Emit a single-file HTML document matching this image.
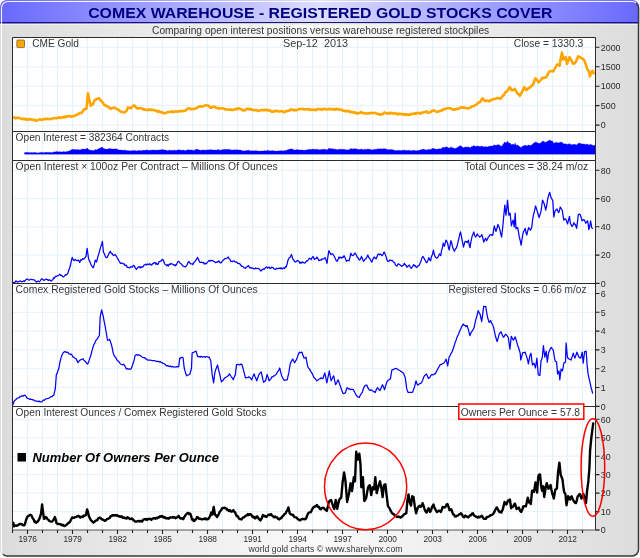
<!DOCTYPE html>
<html><head><meta charset="utf-8"><title>COMEX WAREHOUSE - REGISTERED GOLD STOCKS COVER</title>
<style>html,body{margin:0;padding:0;background:#fff}svg{display:block}text{font-family:"Liberation Sans",Arial,sans-serif}</style></head><body>
<svg width="640" height="558" viewBox="0 0 640 558">
<defs>
<linearGradient id="tg" x1="0" x2="1" y1="0" y2="0"><stop offset="0" stop-color="#6868ff"/><stop offset="0.5" stop-color="#dedeff"/><stop offset="1" stop-color="#6868ff"/></linearGradient>
<linearGradient id="bg" x1="0" x2="1" y1="0" y2="0"><stop offset="0" stop-color="#dcdcdc"/><stop offset="0.5" stop-color="#fafafa"/><stop offset="1" stop-color="#dcdcdc"/></linearGradient>
<clipPath id="fr"><rect x="0" y="0" width="639.2" height="556.7" rx="7" ry="7"/></clipPath>
<clipPath id="p1"><rect x="13" y="38" width="582" height="93"/></clipPath>
<clipPath id="p3"><rect x="13" y="161" width="582" height="122"/></clipPath>
<clipPath id="p4"><rect x="13" y="284" width="582" height="122"/></clipPath>
<clipPath id="p5"><rect x="13" y="407" width="582" height="123"/></clipPath>
</defs>
<g clip-path="url(#fr)">
<rect x="0" y="0" width="640" height="558" fill="url(#bg)"/>
<rect x="0" y="0" width="640" height="22" fill="url(#tg)"/>
<rect x="0" y="22" width="640" height="1" fill="#1a1a5c"/>
<rect x="0" y="23" width="640" height="1" fill="url(#tg)" opacity="0.9"/>
<rect x="0" y="24" width="640" height="1" fill="#f2f2e0"/>
</g>
<path d="M1.5,551 L1.5,8 A6.5,6.5 0 0 1 8,1.5 L632,1.5 A6,6 0 0 1 636,3" fill="none" stroke="#ffffff" stroke-width="1.1" opacity="0.92"/>
<path d="M3,554.2 A6.5,6.5 0 0 0 8,556 L632,556 A6.5,6.5 0 0 0 638.5,549.5 L638.5,8 A6.5,6.5 0 0 0 636.3,3.2" fill="none" stroke="#3a3a3a" stroke-width="1.5"/>
<rect x="12.5" y="37.5" width="583.0" height="492.5" fill="#ffffff"/>
<path d="M27.5,38 V530 M42.5,38 V530 M57.5,38 V530 M72.5,38 V530 M87.5,38 V530 M102.5,38 V530 M117.5,38 V530 M132.5,38 V530 M147.5,38 V530 M162.5,38 V530 M177.5,38 V530 M192.5,38 V530 M207.5,38 V530 M222.5,38 V530 M237.5,38 V530 M252.5,38 V530 M267.5,38 V530 M282.5,38 V530 M297.5,38 V530 M312.5,38 V530 M327.5,38 V530 M342.5,38 V530 M357.5,38 V530 M372.5,38 V530 M387.5,38 V530 M402.5,38 V530 M417.5,38 V530 M432.5,38 V530 M447.5,38 V530 M462.5,38 V530 M477.5,38 V530 M492.5,38 V530 M507.5,38 V530 M522.5,38 V530 M537.5,38 V530 M552.5,38 V530 M567.5,38 V530 M582.5,38 V530 M13,125.1 H595 M13,105.6 H595 M13,86.2 H595 M13,66.8 H595 M13,47.3 H595 M13,255.1 H595 M13,226.8 H595 M13,198.6 H595 M13,170.3 H595 M13,387.5 H595 M13,368.7 H595 M13,349.9 H595 M13,331.1 H595 M13,312.3 H595 M13,293.5 H595 M13,511.6 H595 M13,493.1 H595 M13,474.6 H595 M13,456.2 H595 M13,437.8 H595 M13,419.3 H595" stroke="#e6f2fa" stroke-width="1" fill="none"/>
<path d="M24.5,154.2 L24.5,152.6 L25.8,152.6 L27.0,152.3 L28.0,152.5 L29.0,152.6 L30.1,152.7 L31.1,152.5 L32.1,152.4 L33.2,152.8 L34.3,152.2 L35.4,152.6 L36.5,152.7 L37.7,153.0 L39.0,152.7 L40.2,152.5 L41.8,152.2 L42.9,152.7 L44.0,152.5 L45.2,152.4 L46.3,152.1 L47.3,152.4 L48.4,152.5 L49.6,152.3 L50.9,152.5 L52.1,152.5 L53.2,152.3 L54.2,151.7 L55.3,151.9 L56.4,151.6 L57.5,151.6 L58.5,152.0 L59.6,151.6 L60.9,152.0 L62.2,151.9 L63.5,151.6 L64.7,151.8 L65.7,152.0 L66.8,151.3 L67.8,151.5 L69.0,151.0 L70.3,150.4 L72.2,149.2 L73.4,149.6 L75.3,149.5 L77.2,149.7 L78.5,149.6 L79.7,150.0 L81.0,149.5 L82.2,149.2 L83.5,149.0 L84.7,149.3 L86.0,149.1 L87.1,148.0 L88.4,149.3 L89.7,150.0 L90.9,150.2 L92.2,150.2 L93.4,150.7 L95.3,149.6 L96.5,149.9 L97.8,149.0 L99.0,148.6 L100.9,147.7 L102.4,147.0 L103.4,148.5 L105.3,149.1 L107.2,149.2 L108.5,148.8 L110.3,148.4 L111.5,149.0 L112.8,148.9 L114.0,149.1 L115.3,148.8 L116.6,149.0 L117.9,149.4 L119.2,150.1 L120.4,150.1 L121.6,150.1 L122.9,150.3 L124.1,150.2 L125.4,150.1 L126.6,150.8 L127.9,150.6 L129.1,150.8 L130.4,151.0 L131.6,150.6 L132.9,150.8 L134.2,150.4 L135.3,150.5 L136.4,150.9 L137.4,150.7 L138.5,150.6 L139.6,150.4 L140.6,150.4 L141.7,150.7 L142.7,150.2 L143.8,150.3 L144.8,150.3 L145.9,150.3 L146.9,149.8 L148.0,150.2 L149.2,150.4 L150.5,150.1 L151.7,150.3 L152.9,150.0 L154.2,150.0 L155.3,150.3 L156.3,150.1 L157.4,150.2 L158.4,149.9 L159.5,149.9 L160.5,149.8 L161.7,149.8 L162.8,149.5 L164.4,150.1 L165.7,149.9 L166.9,150.4 L167.9,150.7 L169.0,149.9 L170.0,150.2 L171.2,150.4 L172.5,150.2 L173.6,150.5 L174.6,150.0 L175.7,150.4 L177.1,150.3 L178.6,149.8 L179.9,149.9 L181.3,150.2 L182.4,150.3 L183.4,150.0 L184.5,150.5 L186.3,150.4 L187.4,149.8 L188.6,149.8 L190.1,150.1 L191.5,149.9 L192.9,150.2 L194.0,150.4 L195.1,149.8 L196.2,149.3 L197.4,149.2 L198.4,149.8 L199.5,149.9 L200.5,150.3 L201.6,150.3 L202.6,150.0 L203.7,149.9 L204.7,150.0 L205.8,150.2 L207.1,150.0 L208.3,149.8 L209.3,150.0 L210.4,149.4 L211.4,149.7 L212.7,150.0 L213.9,150.1 L215.2,150.0 L216.4,150.2 L217.7,149.4 L218.9,149.7 L220.2,150.2 L221.4,150.0 L222.7,149.4 L223.9,149.5 L225.0,149.3 L226.1,149.4 L227.2,149.6 L228.3,149.2 L229.6,149.4 L230.8,149.8 L231.9,150.2 L233.0,149.9 L234.1,149.7 L235.2,149.9 L236.3,149.8 L237.4,149.7 L238.5,150.1 L239.5,149.9 L240.6,150.1 L241.6,150.5 L242.9,150.7 L244.1,151.1 L245.4,150.8 L246.7,150.3 L247.9,150.4 L248.9,150.1 L250.0,151.0 L251.0,150.7 L252.3,150.8 L253.5,150.7 L254.8,150.9 L255.8,150.6 L256.9,150.9 L257.9,150.8 L259.2,151.2 L260.5,151.1 L261.5,151.0 L262.6,150.9 L263.6,150.9 L264.6,150.4 L265.7,151.0 L266.7,150.6 L267.8,150.3 L268.8,150.7 L269.9,150.8 L270.9,151.0 L272.0,150.4 L273.0,150.7 L274.2,151.0 L275.5,150.9 L276.5,151.2 L277.6,150.9 L278.6,150.8 L279.9,151.0 L281.1,150.5 L282.4,150.9 L283.7,150.7 L284.9,150.4 L286.2,150.6 L288.0,149.6 L289.9,149.3 L291.4,148.8 L293.1,149.5 L294.4,150.0 L295.6,149.9 L296.9,149.6 L298.1,149.7 L299.9,150.1 L301.2,149.9 L302.5,149.9 L303.5,150.3 L304.6,150.2 L305.6,150.0 L306.9,150.1 L308.1,149.5 L309.4,149.3 L311.2,149.5 L313.1,149.1 L314.5,149.5 L315.8,149.3 L317.0,149.2 L318.9,149.7 L319.9,149.8 L321.0,149.5 L322.0,149.4 L323.1,149.2 L324.1,149.2 L325.2,149.3 L327.0,150.1 L328.9,148.3 L330.8,148.8 L332.7,148.7 L334.6,149.2 L335.9,149.2 L337.1,149.8 L339.0,149.2 L340.2,149.2 L341.5,149.3 L342.8,149.6 L344.0,149.0 L345.2,149.8 L346.5,149.8 L347.8,149.9 L349.0,149.7 L350.9,148.6 L352.8,149.0 L354.1,148.8 L355.3,148.6 L357.1,149.2 L358.4,149.3 L359.6,149.6 L361.5,149.1 L363.4,149.8 L364.6,149.3 L365.9,149.4 L367.8,148.9 L369.7,149.3 L370.8,149.4 L371.9,149.9 L373.0,149.8 L374.1,149.2 L376.0,149.4 L377.8,148.8 L379.1,149.1 L380.3,148.7 L382.2,149.0 L384.1,148.5 L386.0,149.1 L387.9,149.8 L389.7,149.6 L390.5,149.6 L391.8,149.6 L393.0,149.8 L394.1,150.2 L395.1,150.4 L396.2,150.4 L397.4,150.4 L398.7,150.2 L399.7,150.4 L400.8,150.6 L401.8,150.5 L403.1,150.2 L404.3,150.1 L405.3,150.4 L406.4,150.2 L407.4,150.6 L409.3,150.3 L411.2,150.8 L412.4,150.5 L413.7,150.2 L414.7,150.6 L415.8,150.7 L416.8,150.7 L417.9,150.3 L418.9,150.6 L420.0,150.1 L421.4,149.7 L422.9,149.1 L424.4,149.4 L425.6,149.8 L426.9,150.0 L428.8,149.3 L430.6,149.7 L432.0,148.6 L433.4,148.2 L435.0,149.1 L436.9,149.3 L438.1,149.1 L439.4,148.7 L440.7,149.0 L441.9,147.9 L443.2,147.2 L444.4,147.7 L445.9,146.8 L447.6,147.2 L449.2,148.2 L450.9,146.9 L452.6,147.8 L454.5,148.4 L455.8,148.2 L457.0,147.7 L458.8,146.6 L460.5,145.6 L462.2,146.9 L463.5,147.8 L465.1,147.0 L466.1,147.0 L467.1,147.2 L468.4,146.8 L470.0,147.9 L471.5,146.6 L472.6,146.4 L473.8,145.6 L475.5,146.4 L477.2,145.9 L478.4,146.2 L479.7,146.4 L480.8,146.4 L481.8,146.0 L482.8,146.4 L483.8,147.1 L485.6,146.5 L486.6,146.9 L487.9,146.7 L489.1,146.3 L491.0,146.0 L492.8,146.1 L494.3,144.8 L496.0,145.6 L497.9,144.6 L499.7,145.2 L501.6,146.4 L503.5,143.8 L504.8,141.8 L506.0,143.2 L507.5,141.1 L508.9,143.2 L510.1,143.0 L511.4,144.8 L513.2,144.0 L514.2,144.9 L515.2,143.0 L516.0,145.2 L517.7,145.0 L519.2,146.3 L521.1,147.5 L522.9,145.9 L524.0,145.7 L525.2,145.1 L526.7,146.1 L528.6,145.0 L530.5,145.4 L531.8,144.9 L532.8,143.7 L534.4,142.7 L535.6,142.0 L537.5,142.8 L539.2,143.6 L541.0,142.7 L542.5,141.1 L544.0,141.6 L545.7,142.5 L547.6,141.0 L548.7,140.8 L549.7,140.0 L551.3,140.9 L552.8,141.2 L553.8,143.5 L555.1,142.6 L557.0,142.4 L558.8,142.9 L560.3,142.1 L561.3,142.2 L562.4,142.6 L563.9,144.0 L565.7,143.8 L567.6,144.5 L569.5,143.4 L570.4,144.4 L572.0,144.8 L573.9,144.3 L575.4,144.6 L576.6,145.1 L578.3,143.2 L580.2,143.2 L582.0,144.1 L583.9,143.9 L585.8,144.4 L587.7,144.1 L588.9,145.3 L590.6,144.1 L591.7,145.0 L592.7,145.2 L593.9,145.5 L595.0,145.2 L595.0,154.2 Z" fill="#0000ff" stroke="#0000ff" stroke-width="0.3"/>
<path clip-path="url(#p1)" d="M12.6,117.7 L13.3,117.7 L14.3,117.3 L15.3,118.2 L16.3,118.1 L17.3,117.6 L18.3,117.9 L19.3,118.1 L20.4,118.3 L21.4,118.8 L22.4,119.2 L23.5,118.6 L24.5,119.3 L25.6,118.8 L26.6,119.8 L27.6,119.3 L28.7,119.7 L29.8,118.9 L30.8,119.5 L32.0,119.6 L33.1,120.0 L34.2,119.6 L35.4,120.6 L36.6,120.6 L37.7,120.3 L38.8,119.5 L39.9,119.3 L41.1,119.7 L42.2,119.9 L43.3,119.2 L44.3,119.1 L45.4,118.9 L46.5,119.1 L47.5,118.6 L48.5,118.9 L49.6,119.2 L50.6,119.0 L51.7,118.9 L52.8,118.4 L53.8,118.3 L54.9,118.1 L55.9,118.3 L57.0,118.1 L58.0,117.7 L59.0,117.3 L60.1,118.1 L61.2,117.6 L62.2,117.4 L63.2,117.4 L64.3,116.6 L65.3,117.4 L66.3,117.0 L67.4,115.9 L68.4,116.2 L69.7,116.1 L70.9,116.6 L72.2,116.4 L73.2,116.3 L74.2,116.2 L75.2,115.2 L76.2,115.3 L77.2,114.5 L78.2,114.2 L79.2,113.3 L80.2,113.1 L81.2,113.0 L82.2,112.0 L84.1,109.1 L85.3,109.3 L86.5,108.6 L88.0,93.2 L89.6,101.4 L90.9,105.8 L92.8,104.5 L94.7,100.1 L96.5,99.1 L97.8,98.7 L99.0,98.2 L100.3,99.9 L101.6,101.4 L102.8,102.6 L104.1,104.9 L105.3,105.1 L106.6,106.3 L107.8,106.4 L109.2,107.5 L110.6,108.9 L111.8,108.0 L112.9,108.0 L114.1,107.4 L115.1,108.2 L116.2,108.7 L117.2,109.1 L118.3,109.7 L119.3,110.6 L120.4,111.4 L121.5,111.7 L122.6,112.2 L123.7,112.2 L124.8,112.4 L126.6,110.8 L127.9,107.4 L128.9,107.6 L130.0,108.0 L131.0,108.3 L132.1,106.8 L133.1,105.8 L134.2,105.4 L135.4,106.9 L136.7,107.9 L137.7,108.6 L138.7,108.3 L139.7,108.2 L140.7,108.1 L141.7,108.6 L142.7,108.8 L143.7,109.7 L144.7,109.6 L145.7,109.6 L146.7,109.8 L147.7,110.2 L148.7,109.4 L149.7,109.6 L150.7,110.1 L151.7,109.5 L152.7,109.9 L153.7,110.1 L154.7,110.2 L155.7,110.8 L156.7,111.1 L157.7,111.8 L158.7,110.9 L159.7,112.0 L160.7,112.2 L161.7,112.0 L163.1,113.1 L164.4,113.3 L165.4,113.2 L166.5,112.8 L167.5,112.0 L168.6,112.0 L169.7,112.0 L170.8,111.8 L171.9,111.3 L173.0,112.2 L174.1,111.8 L175.2,111.3 L176.3,111.6 L177.4,111.5 L178.5,111.4 L179.6,111.1 L180.7,111.0 L181.8,111.1 L182.9,111.1 L184.0,111.0 L185.1,110.8 L186.3,109.9 L187.6,108.6 L188.8,108.3 L190.1,108.6 L191.3,109.5 L192.4,108.8 L193.5,109.0 L194.6,109.0 L195.7,108.3 L196.8,108.0 L197.8,107.4 L198.9,106.4 L199.9,106.7 L200.9,106.0 L201.9,106.6 L202.9,106.4 L203.9,106.1 L205.1,105.4 L206.4,105.1 L207.6,105.4 L208.9,105.9 L210.2,107.6 L211.4,107.6 L212.7,106.8 L213.9,106.8 L214.9,106.8 L215.9,107.8 L216.9,107.9 L217.9,108.0 L218.9,108.9 L220.2,108.2 L221.4,108.3 L222.4,108.6 L223.4,108.4 L224.5,108.7 L225.5,109.5 L226.5,109.5 L227.5,109.5 L228.6,109.5 L229.6,109.8 L230.6,109.3 L231.7,109.9 L232.7,110.1 L233.7,109.7 L234.7,109.1 L235.7,108.7 L236.7,109.4 L237.7,108.6 L239.1,108.3 L240.4,109.0 L241.6,109.4 L242.9,110.4 L244.0,110.3 L245.1,110.3 L246.3,109.0 L247.4,108.8 L248.5,109.1 L249.6,108.9 L250.7,109.7 L251.8,109.2 L252.9,110.0 L254.0,110.2 L255.1,110.2 L256.2,110.0 L257.3,110.5 L258.4,111.0 L259.5,110.7 L260.6,110.3 L261.7,109.9 L262.8,110.3 L263.9,109.9 L265.0,110.1 L266.1,109.9 L267.2,109.9 L268.2,110.6 L269.2,110.1 L270.3,110.7 L271.3,111.7 L272.4,111.4 L273.4,111.7 L274.4,110.9 L275.4,111.5 L276.4,110.7 L277.4,110.8 L278.4,111.5 L279.5,111.5 L280.5,111.3 L281.5,111.3 L282.6,111.2 L283.6,112.0 L284.9,112.2 L286.1,110.8 L287.4,111.1 L288.7,110.8 L289.9,110.3 L291.2,109.1 L292.4,109.8 L293.7,110.4 L294.7,109.7 L295.7,110.3 L296.7,110.2 L297.7,109.6 L298.7,109.1 L299.8,109.1 L300.8,109.0 L301.9,109.0 L303.0,108.9 L304.1,109.5 L305.1,109.2 L306.2,109.3 L307.4,109.1 L308.5,109.1 L309.7,109.9 L310.8,109.5 L312.0,109.9 L313.1,109.8 L314.1,109.5 L315.2,110.1 L316.3,110.0 L317.4,108.9 L318.4,109.0 L319.5,109.3 L320.5,109.0 L321.6,109.8 L322.6,109.5 L323.7,108.9 L324.7,108.7 L325.8,109.2 L326.8,109.4 L327.9,109.5 L328.9,108.9 L329.9,108.8 L331.0,109.5 L332.0,109.3 L333.0,109.1 L334.0,109.8 L335.1,108.9 L336.1,109.6 L337.1,108.8 L338.1,109.0 L339.2,109.9 L340.2,109.5 L341.3,109.5 L342.4,110.5 L343.5,110.6 L344.6,110.8 L345.7,111.4 L346.8,110.9 L347.9,111.1 L349.0,111.1 L350.1,112.0 L351.2,111.8 L352.3,112.4 L353.4,112.0 L354.5,112.9 L355.6,112.4 L356.7,113.3 L357.8,113.7 L358.9,113.0 L360.0,112.6 L361.1,112.4 L362.2,112.6 L363.2,113.2 L364.2,113.3 L365.2,113.5 L366.2,113.1 L367.2,113.5 L368.4,113.4 L369.7,113.4 L370.9,112.9 L371.9,112.9 L373.0,113.3 L374.0,113.0 L375.1,112.9 L376.1,113.3 L377.2,113.7 L378.2,114.3 L379.2,114.1 L380.2,114.7 L381.2,114.3 L382.2,114.5 L384.1,112.6 L385.1,112.6 L386.2,113.4 L387.2,113.3 L388.2,113.7 L389.2,112.8 L390.2,113.6 L391.3,112.9 L392.3,113.0 L393.3,113.9 L394.3,113.5 L395.3,113.1 L396.4,113.5 L397.4,114.5 L398.4,113.9 L399.5,113.7 L400.5,114.3 L401.6,113.9 L402.6,114.1 L403.6,114.7 L404.7,114.0 L405.8,115.0 L406.8,114.5 L407.9,114.3 L408.9,114.9 L410.0,114.7 L411.0,113.9 L412.1,113.7 L413.1,113.9 L414.1,113.8 L415.2,113.2 L416.2,113.8 L417.2,112.9 L418.3,112.8 L419.3,113.3 L420.4,113.7 L421.4,112.6 L422.5,112.8 L423.5,112.4 L424.6,112.0 L425.6,112.0 L426.6,111.5 L427.6,112.5 L428.6,112.6 L429.6,112.6 L430.6,112.0 L431.7,111.0 L432.7,110.6 L433.8,110.4 L435.1,111.1 L436.3,111.6 L437.4,112.0 L438.5,111.3 L439.6,111.2 L440.7,110.8 L441.9,110.4 L443.2,109.4 L444.4,109.1 L445.7,108.9 L446.9,108.3 L448.2,108.3 L449.3,108.3 L450.4,108.4 L451.5,108.9 L452.6,109.5 L453.7,109.9 L454.8,109.1 L455.9,109.2 L457.0,108.9 L458.1,108.7 L459.2,108.7 L460.3,107.6 L461.4,107.4 L462.6,107.4 L463.8,107.6 L465.0,108.0 L466.1,107.8 L467.3,108.4 L468.5,108.4 L469.6,107.9 L470.7,107.1 L471.9,106.6 L473.0,106.3 L474.2,105.8 L475.3,105.2 L476.3,104.7 L477.3,103.6 L478.3,102.7 L479.3,102.3 L480.3,102.0 L481.5,99.6 L482.6,98.3 L483.6,99.6 L484.7,100.8 L486.0,100.5 L487.2,100.7 L488.5,101.4 L489.6,101.0 L490.6,100.0 L491.7,100.1 L492.8,99.2 L494.1,98.9 L495.3,99.0 L496.6,98.3 L497.7,97.9 L498.8,98.3 L499.9,98.7 L501.0,98.3 L502.3,96.1 L503.5,95.5 L504.8,93.3 L505.8,91.8 L506.9,91.5 L507.9,90.1 L509.8,87.0 L511.6,90.1 L512.7,90.3 L513.7,89.7 L514.8,88.9 L516.0,90.9 L517.3,93.3 L518.5,94.1 L519.8,95.8 L521.0,93.6 L522.3,91.4 L524.2,87.0 L526.1,90.1 L527.1,89.8 L528.2,88.2 L529.2,87.6 L530.3,87.4 L531.3,85.8 L532.4,85.5 L533.5,83.6 L534.5,80.1 L535.6,78.3 L537.0,80.1 L538.4,82.3 L539.7,81.3 L541.0,79.7 L542.3,77.8 L543.3,78.1 L544.3,77.8 L545.3,77.5 L546.3,77.0 L547.3,75.4 L548.4,72.9 L549.4,71.4 L550.7,71.3 L551.9,71.0 L553.2,71.4 L554.5,69.4 L555.7,67.0 L557.0,64.5 L558.2,64.8 L559.5,65.7 L560.8,58.6 L562.0,52.6 L563.2,59.5 L564.5,58.8 L565.7,57.0 L567.0,63.9 L568.2,60.8 L569.5,57.0 L570.8,59.4 L572.0,61.6 L573.3,63.9 L574.5,63.4 L575.8,62.0 L577.0,59.1 L578.3,56.3 L579.3,56.8 L580.4,57.4 L581.4,58.2 L582.4,58.7 L583.5,59.3 L584.5,60.7 L586.4,66.4 L587.7,70.1 L588.9,70.8 L589.9,76.4 L591.4,72.0 L592.7,70.8 L593.7,73.3" fill="none" stroke="#ffa500" stroke-width="2.6" stroke-linejoin="round" stroke-linecap="round"/>
<path clip-path="url(#p3)" d="M12.6,282.6 L13.3,282.3 L14.1,283.0 L14.9,282.8 L15.6,281.1 L16.4,281.0 L17.2,282.2 L17.9,281.9 L18.7,281.6 L19.5,281.2 L20.3,280.9 L21.2,281.5 L22.0,281.5 L22.8,281.5 L23.7,280.8 L24.5,281.4 L25.3,280.4 L26.2,279.5 L27.0,278.9 L27.9,279.4 L28.7,280.0 L29.6,280.1 L30.4,279.4 L31.2,279.4 L32.1,279.6 L33.0,279.7 L33.9,279.8 L34.7,280.2 L35.6,281.5 L36.5,282.1 L37.4,281.4 L38.4,281.2 L39.3,281.8 L40.2,280.8 L41.0,279.7 L41.8,278.6 L42.9,279.6 L44.0,280.4 L45.2,279.6 L46.0,279.3 L46.8,279.1 L47.6,279.9 L48.4,280.4 L49.3,279.7 L50.2,280.3 L51.2,281.1 L52.1,280.2 L52.9,279.6 L53.7,277.7 L54.5,278.1 L55.3,276.4 L56.2,276.5 L57.0,275.9 L57.9,275.8 L58.7,275.1 L59.6,274.2 L60.5,275.3 L61.3,275.1 L62.2,276.0 L63.0,276.8 L63.9,276.7 L64.7,275.8 L65.5,274.6 L66.2,275.0 L67.0,274.3 L67.8,273.3 L68.6,270.7 L69.5,268.4 L70.3,265.8 L71.2,261.6 L72.2,257.4 L73.4,259.9 L74.3,260.5 L75.3,259.5 L76.2,260.2 L77.2,260.8 L78.5,260.1 L79.7,262.6 L81.0,259.5 L81.9,259.8 L82.8,258.6 L83.8,259.2 L84.7,258.2 L86.0,256.4 L87.1,248.4 L88.4,257.6 L89.2,260.6 L90.1,262.1 L90.9,264.5 L91.7,265.7 L92.6,267.3 L93.4,267.6 L94.3,264.3 L95.3,260.1 L96.5,262.0 L97.3,259.0 L98.2,255.6 L99.0,253.2 L100.0,249.4 L100.9,246.3 L101.7,244.2 L102.4,241.3 L103.4,252.0 L104.3,253.6 L105.3,256.4 L106.2,257.6 L107.2,257.4 L108.5,254.5 L109.4,252.5 L110.3,251.3 L111.1,253.2 L112.0,253.4 L112.8,254.9 L113.6,255.6 L114.5,255.0 L115.3,254.5 L116.2,256.0 L117.0,257.5 L117.9,258.9 L118.7,260.6 L119.6,262.0 L120.4,263.3 L121.3,263.1 L122.2,263.1 L123.2,263.8 L124.1,263.9 L124.9,265.4 L125.6,265.5 L126.4,265.2 L127.1,267.3 L127.9,267.4 L128.8,267.7 L129.8,267.9 L130.7,266.5 L131.6,267.0 L132.5,267.0 L133.3,265.4 L134.2,265.8 L135.3,267.9 L136.4,269.5 L137.4,267.8 L138.5,267.0 L139.3,266.7 L140.1,268.0 L140.9,266.7 L141.7,267.6 L142.5,266.9 L143.2,266.8 L144.0,265.0 L144.8,264.8 L145.6,264.1 L146.4,265.1 L147.2,264.1 L148.0,264.1 L148.9,264.7 L149.8,263.8 L150.8,264.6 L151.7,265.1 L152.5,263.7 L153.4,263.7 L154.2,262.6 L155.0,262.3 L155.8,264.4 L156.6,263.2 L157.4,264.5 L158.2,264.1 L158.9,261.9 L159.7,261.5 L160.5,261.1 L161.3,261.1 L162.0,259.4 L162.8,259.5 L163.6,260.8 L164.4,263.3 L165.2,264.5 L166.1,264.8 L166.9,265.8 L167.7,264.7 L168.4,266.0 L169.2,264.2 L170.0,264.5 L170.8,263.5 L171.7,264.0 L172.5,264.1 L173.3,264.7 L174.1,265.4 L174.9,264.7 L175.7,265.8 L176.7,264.0 L177.6,262.0 L178.6,261.4 L179.5,262.1 L180.4,263.5 L181.3,263.9 L182.1,265.0 L182.9,266.0 L183.7,266.4 L184.5,266.6 L185.4,266.9 L186.3,265.8 L187.1,264.8 L187.8,263.0 L188.6,261.6 L189.3,262.0 L190.1,263.3 L191.0,264.0 L192.0,263.8 L192.9,264.5 L194.0,262.2 L195.1,261.4 L195.9,260.0 L196.6,259.4 L197.4,257.4 L198.4,259.0 L199.5,262.0 L200.3,262.3 L201.1,262.1 L201.8,262.5 L202.6,262.6 L203.4,262.3 L204.2,264.1 L205.0,263.1 L205.8,263.9 L206.6,263.3 L207.5,262.1 L208.3,261.4 L209.1,260.4 L209.9,261.2 L210.6,260.3 L211.4,260.8 L212.2,260.4 L212.9,260.7 L213.7,261.3 L214.4,261.5 L215.2,262.6 L216.1,262.4 L217.1,261.7 L218.0,262.1 L218.9,260.8 L219.7,262.2 L220.6,262.9 L221.4,262.6 L222.2,261.1 L223.1,260.4 L223.9,259.5 L224.8,258.6 L225.7,258.7 L226.5,258.2 L227.4,258.0 L228.3,257.0 L229.1,258.8 L230.0,259.5 L230.8,261.4 L231.7,261.4 L232.6,261.7 L233.4,260.9 L234.3,261.0 L235.2,262.0 L236.0,262.2 L236.8,262.0 L237.7,263.4 L238.5,263.3 L239.3,263.6 L240.1,264.1 L240.8,265.1 L241.6,266.4 L242.4,266.3 L243.1,266.7 L243.9,267.6 L244.6,267.9 L245.4,268.3 L246.2,267.1 L247.1,266.9 L247.9,265.8 L248.7,265.7 L249.4,267.4 L250.2,268.0 L251.0,267.6 L251.8,268.3 L252.5,268.0 L253.3,268.4 L254.0,268.8 L254.8,268.9 L255.6,267.9 L256.4,268.5 L257.1,268.5 L257.9,268.3 L258.8,268.6 L259.6,269.2 L260.5,270.8 L261.3,270.9 L262.1,269.6 L262.8,269.4 L263.6,268.9 L264.4,269.2 L265.1,268.1 L265.9,267.1 L266.7,267.0 L267.5,268.2 L268.3,267.4 L269.1,267.1 L269.9,268.3 L270.7,268.5 L271.4,267.2 L272.2,267.4 L273.0,267.6 L273.8,268.8 L274.7,269.2 L275.5,269.5 L276.3,268.3 L277.1,268.8 L277.8,268.4 L278.6,268.3 L279.4,268.4 L280.1,268.0 L280.9,268.8 L281.6,268.0 L282.4,268.9 L283.2,268.1 L283.9,267.9 L284.7,268.5 L285.4,266.6 L286.2,267.0 L287.1,264.0 L288.0,260.1 L288.9,258.3 L289.9,257.6 L290.6,256.2 L291.4,254.5 L292.2,256.8 L293.1,259.5 L293.9,260.3 L294.8,261.6 L295.6,262.0 L296.4,261.4 L297.3,260.5 L298.1,260.8 L299.0,261.4 L299.9,263.3 L300.8,262.1 L301.6,263.1 L302.5,262.0 L303.3,262.4 L304.1,263.1 L304.8,262.8 L305.6,262.6 L306.4,260.9 L307.1,261.1 L307.9,260.5 L308.6,259.5 L309.4,258.2 L310.3,258.8 L311.2,259.5 L312.1,257.7 L313.1,256.4 L314.5,259.5 L315.3,258.6 L316.2,258.4 L317.0,257.0 L317.9,258.5 L318.9,260.8 L319.7,260.4 L320.4,259.8 L321.2,260.2 L322.0,258.9 L322.8,259.1 L323.6,259.0 L324.4,258.5 L325.2,257.6 L326.1,260.1 L327.0,263.3 L327.9,256.5 L328.9,250.7 L329.9,252.6 L330.8,254.5 L331.8,253.8 L332.7,253.9 L333.6,255.3 L334.6,257.0 L335.4,258.8 L336.3,260.7 L337.1,261.4 L338.1,259.4 L339.0,257.0 L339.8,258.0 L340.7,257.1 L341.5,258.2 L342.3,257.1 L343.2,257.4 L344.0,255.7 L344.8,257.0 L345.7,259.4 L346.5,261.4 L347.3,260.4 L348.2,260.3 L349.0,260.8 L349.9,257.7 L350.9,253.2 L351.9,255.3 L352.8,255.7 L353.6,255.1 L354.5,253.4 L355.3,253.2 L356.2,254.7 L357.1,257.0 L357.9,257.6 L358.8,259.4 L359.6,260.1 L360.6,258.6 L361.5,256.4 L362.4,258.8 L363.4,261.4 L364.2,260.6 L365.1,259.0 L365.9,258.9 L366.9,257.1 L367.8,255.1 L368.8,257.5 L369.7,258.2 L370.8,260.6 L371.9,262.0 L373.0,258.8 L374.1,257.0 L375.1,258.0 L376.0,258.9 L376.9,257.1 L377.8,254.5 L378.6,253.9 L379.5,254.8 L380.3,253.9 L381.2,254.7 L382.2,255.7 L383.1,254.2 L384.1,252.0 L385.1,254.0 L386.0,256.4 L386.9,259.8 L387.9,261.4 L388.8,261.3 L389.7,260.1 L390.5,260.1 L391.3,260.7 L392.2,260.3 L393.0,261.4 L393.8,262.4 L394.6,262.8 L395.4,264.9 L396.2,265.8 L397.0,265.9 L397.9,264.0 L398.7,263.9 L399.5,264.5 L400.2,265.1 L401.0,265.6 L401.8,266.4 L402.6,265.7 L403.5,265.1 L404.3,263.3 L405.1,264.6 L405.9,265.1 L406.6,266.9 L407.4,267.0 L408.4,265.7 L409.3,265.1 L410.2,267.1 L411.2,268.3 L412.0,267.3 L412.9,266.2 L413.7,264.5 L414.5,265.9 L415.2,265.6 L416.0,267.0 L416.8,267.6 L417.6,266.3 L418.4,265.8 L419.2,265.2 L420.0,263.3 L421.0,261.2 L421.9,257.8 L422.9,256.4 L423.6,257.6 L424.4,258.9 L425.2,260.5 L426.1,262.1 L426.9,262.6 L427.9,260.4 L428.8,257.6 L429.7,259.8 L430.6,260.8 L431.5,256.4 L432.5,254.5 L433.4,250.1 L434.2,253.7 L435.0,256.4 L435.9,257.5 L436.9,258.2 L437.7,257.5 L438.6,256.0 L439.4,253.9 L440.7,255.7 L441.5,250.8 L442.4,247.9 L443.2,243.2 L444.4,246.3 L445.1,243.7 L445.9,240.1 L446.8,241.1 L447.6,243.2 L448.4,247.1 L449.2,250.1 L450.0,245.6 L450.9,240.7 L451.8,243.3 L452.6,247.0 L453.6,249.7 L454.5,251.3 L455.3,249.0 L456.2,248.2 L457.0,246.3 L457.9,242.4 L458.8,238.8 L459.6,234.9 L460.5,231.9 L461.4,236.4 L462.2,240.7 L463.5,247.0 L464.3,244.1 L465.1,241.3 L466.1,241.5 L467.1,242.7 L468.4,240.2 L469.2,244.8 L470.0,247.7 L470.8,242.5 L471.5,238.9 L472.3,235.7 L473.0,234.3 L473.8,232.0 L474.6,235.2 L475.5,237.1 L476.4,235.8 L477.2,233.9 L478.0,235.4 L478.9,236.0 L479.7,237.1 L480.8,236.1 L481.8,234.5 L482.8,238.0 L483.8,242.1 L484.7,239.8 L485.6,238.3 L486.6,240.8 L487.4,239.3 L488.3,237.0 L489.1,236.4 L490.1,234.7 L491.0,234.5 L491.9,235.3 L492.8,235.2 L493.6,229.9 L494.3,225.8 L495.1,229.1 L496.0,231.4 L496.9,228.5 L497.9,224.5 L498.8,226.5 L499.7,228.9 L500.6,233.3 L501.6,237.1 L502.6,228.5 L503.5,218.9 L504.8,205.1 L506.0,215.1 L506.8,208.3 L507.5,200.1 L508.9,215.1 L510.1,213.2 L511.4,225.8 L512.3,222.3 L513.2,220.1 L514.2,227.0 L515.2,213.2 L516.0,228.9 L516.9,227.6 L517.7,227.6 L518.5,231.8 L519.2,236.4 L520.2,240.7 L521.1,245.2 L522.0,239.2 L522.9,233.9 L523.7,231.2 L524.4,230.3 L525.2,228.3 L526.0,232.6 L526.7,235.2 L527.7,231.2 L528.6,227.6 L529.5,229.0 L530.5,230.2 L531.8,227.0 L532.8,218.3 L533.6,214.6 L534.4,211.4 L535.6,206.0 L536.5,208.9 L537.5,212.0 L538.4,215.5 L539.2,217.6 L540.1,214.2 L541.0,211.4 L541.8,206.0 L542.5,200.1 L543.2,201.6 L544.0,203.2 L544.9,206.7 L545.7,210.1 L546.7,205.5 L547.6,199.5 L548.7,195.1 L549.7,192.3 L550.5,195.8 L551.3,198.2 L552.0,199.1 L552.8,200.7 L553.8,217.0 L555.1,210.8 L556.0,210.1 L557.0,208.9 L557.9,211.3 L558.8,212.6 L559.5,210.1 L560.3,207.0 L561.3,208.7 L562.4,210.8 L563.1,216.1 L563.9,220.2 L564.8,218.8 L565.7,218.9 L566.7,221.6 L567.6,223.9 L568.5,220.0 L569.5,216.4 L570.4,223.3 L571.2,224.9 L572.0,226.4 L573.0,225.2 L573.9,222.7 L574.6,224.1 L575.4,224.5 L576.6,228.3 L577.5,221.6 L578.3,214.5 L579.2,214.2 L580.2,214.5 L581.1,217.2 L582.0,220.8 L583.0,220.1 L583.9,219.5 L584.8,220.9 L585.8,223.3 L586.8,221.6 L587.7,220.8 L588.9,229.6 L589.8,226.0 L590.6,220.8 L591.7,227.7 L592.7,228.9" fill="none" stroke="#0000ff" stroke-width="1.25" stroke-linejoin="round"/>
<path clip-path="url(#p4)" d="M12.6,405.0 L13.0,404.4 L14.0,401.5 L15.0,400.2 L15.9,399.5 L16.9,398.5 L17.7,398.0 L18.5,397.9 L19.3,397.5 L20.1,396.5 L20.9,396.6 L21.9,395.7 L22.9,396.3 L23.8,395.3 L24.8,395.2 L25.8,396.0 L26.8,397.9 L27.8,398.5 L28.8,398.7 L29.8,399.4 L30.7,399.2 L31.7,399.5 L32.5,399.9 L33.3,399.6 L34.1,400.4 L35.0,401.0 L35.8,400.9 L36.6,401.1 L37.4,401.5 L38.3,401.6 L39.1,401.0 L39.9,401.9 L40.8,401.9 L41.6,401.9 L42.6,401.0 L43.5,400.0 L44.5,400.2 L45.5,399.1 L46.3,398.7 L47.1,398.7 L48.0,398.5 L48.8,398.0 L49.6,397.9 L50.4,397.1 L51.2,396.5 L52.1,396.5 L52.9,395.6 L53.8,395.2 L55.3,388.7 L56.3,374.9 L57.2,373.1 L58.0,370.7 L58.9,368.0 L59.9,362.6 L60.9,358.1 L62.0,355.0 L63.2,352.8 L64.2,351.9 L65.2,351.6 L66.4,352.4 L67.6,352.2 L69.1,354.2 L69.9,354.1 L70.7,354.3 L71.5,354.2 L73.1,357.1 L74.1,357.4 L75.0,358.2 L76.0,358.7 L77.0,360.6 L78.0,362.7 L79.0,361.2 L80.0,360.1 L81.0,359.7 L81.9,359.3 L82.9,358.7 L84.1,360.5 L85.3,361.5 L86.1,362.5 L86.9,363.6 L87.7,364.0 L88.8,361.4 L89.9,358.1 L90.9,355.0 L91.9,351.1 L92.9,347.3 L93.9,344.6 L94.8,343.1 L95.8,340.4 L96.7,339.7 L97.6,338.4 L98.5,336.8 L99.4,335.5 L100.2,316.7 L101.7,309.9 L103.3,316.7 L104.1,321.2 L104.9,325.0 L105.7,329.6 L106.7,335.4 L107.6,340.4 L108.6,340.0 L109.6,339.4 L110.6,342.1 L111.6,345.3 L112.4,348.8 L113.2,353.2 L114.0,355.1 L114.8,356.7 L115.7,357.2 L116.5,359.1 L117.3,360.4 L118.1,361.0 L118.9,361.7 L119.7,362.8 L120.5,364.0 L121.5,364.5 L122.5,364.9 L123.4,364.2 L124.4,365.0 L125.4,367.1 L126.4,369.0 L127.3,368.5 L128.2,369.2 L129.1,368.8 L130.0,369.4 L130.9,369.0 L131.7,367.6 L132.5,365.1 L133.3,363.1 L134.2,359.7 L135.2,355.2 L136.0,355.0 L136.8,354.7 L137.6,355.3 L138.4,354.7 L139.2,355.2 L140.2,355.4 L141.1,356.2 L142.1,357.0 L143.1,357.5 L143.9,357.5 L144.8,357.7 L145.6,359.0 L146.5,358.8 L147.3,359.9 L148.2,360.2 L149.0,360.1 L149.8,360.1 L150.7,360.2 L151.5,360.4 L152.4,360.6 L153.2,360.6 L154.1,360.7 L154.9,360.7 L155.7,361.0 L156.6,361.6 L157.4,361.3 L158.3,361.4 L159.1,361.9 L160.0,361.6 L160.8,362.1 L161.8,362.3 L162.9,363.5 L163.9,363.4 L164.9,364.3 L165.9,365.2 L166.9,366.0 L167.8,365.6 L168.6,366.2 L169.5,366.5 L170.4,366.0 L171.2,366.8 L172.1,366.9 L172.9,366.4 L173.8,367.0 L174.6,367.1 L175.4,366.8 L176.2,367.0 L177.1,366.6 L177.9,366.9 L178.7,366.6 L179.7,358.1 L180.5,358.3 L181.4,357.4 L182.2,357.3 L183.1,357.7 L184.2,368.0 L185.0,370.8 L185.8,373.8 L186.6,375.9 L187.4,375.1 L188.3,374.9 L189.2,374.5 L190.0,373.9 L191.5,368.0 L192.1,353.2 L192.9,352.6 L193.7,352.3 L194.5,351.8 L195.3,351.5 L196.1,351.2 L196.9,354.1 L197.8,356.7 L198.6,356.5 L199.4,356.6 L200.3,357.1 L201.1,356.3 L201.9,356.9 L202.7,357.1 L203.6,356.7 L204.4,356.6 L205.2,357.3 L206.0,356.7 L206.8,356.7 L207.7,357.0 L208.5,357.3 L209.3,357.1 L210.8,361.1 L212.2,374.9 L213.6,382.8 L214.8,372.9 L215.7,369.8 L216.6,367.4 L217.5,365.0 L219.1,371.9 L219.9,375.0 L220.7,378.9 L221.5,381.8 L222.3,380.7 L223.2,380.2 L224.0,378.8 L225.0,377.8 L226.0,377.3 L227.0,376.8 L227.8,376.0 L228.6,375.3 L229.4,373.9 L230.4,375.3 L231.3,376.8 L232.3,378.0 L233.3,379.8 L234.3,376.9 L235.3,374.9 L236.5,364.6 L237.4,364.6 L238.3,364.2 L239.2,364.8 L240.1,364.8 L241.0,364.1 L241.9,364.4 L242.9,367.9 L243.9,371.9 L245.5,377.8 L246.3,377.9 L247.2,377.5 L248.0,377.4 L248.8,376.8 L249.8,377.6 L250.8,378.4 L251.8,379.8 L252.9,376.6 L254.1,373.9 L255.0,376.5 L255.8,378.2 L256.7,380.8 L257.6,378.3 L258.4,376.1 L259.3,373.9 L260.2,372.8 L261.2,371.9 L262.0,375.3 L262.8,379.4 L263.6,382.4 L264.6,381.2 L265.6,380.8 L267.1,374.5 L268.1,377.1 L269.1,380.8 L270.0,380.0 L271.0,378.6 L271.9,376.8 L272.8,376.9 L273.6,375.8 L274.5,375.9 L275.4,374.9 L276.4,374.0 L277.4,371.9 L278.4,370.9 L279.7,368.0 L280.7,372.2 L281.7,375.9 L282.6,377.8 L283.4,379.1 L284.3,380.4 L285.3,380.2 L286.2,379.8 L287.2,379.8 L288.0,376.2 L288.8,372.9 L290.2,364.0 L291.0,362.1 L291.9,360.3 L292.7,359.1 L293.7,361.0 L294.7,362.7 L295.5,360.9 L296.3,360.0 L297.1,358.1 L298.2,354.6 L299.4,352.2 L300.3,352.6 L301.1,352.4 L302.0,352.2 L303.0,355.6 L304.0,358.1 L305.0,358.0 L306.0,357.1 L306.9,362.5 L307.9,367.0 L308.8,368.4 L309.6,369.1 L310.5,370.9 L311.5,372.7 L312.5,374.0 L314.0,377.8 L315.0,378.4 L315.9,379.6 L316.9,380.8 L317.7,380.4 L318.5,379.6 L319.3,378.9 L320.1,378.9 L320.9,377.8 L321.9,378.4 L322.8,378.8 L323.8,375.7 L324.8,372.9 L325.8,377.6 L326.8,382.8 L327.6,379.2 L328.5,374.8 L329.3,370.9 L330.2,376.2 L331.1,380.8 L332.0,379.0 L332.8,377.2 L333.7,375.9 L334.6,380.3 L335.6,384.7 L336.8,382.6 L338.0,379.8 L338.9,381.7 L339.7,384.7 L340.6,386.7 L341.4,389.5 L342.3,391.6 L343.1,393.6 L344.3,393.5 L345.5,392.6 L346.3,389.6 L347.1,387.7 L347.9,388.3 L348.8,389.1 L349.6,388.7 L350.4,389.7 L351.4,389.4 L352.4,389.4 L353.4,389.7 L354.4,391.7 L355.3,393.5 L356.3,395.6 L357.3,396.2 L358.3,397.2 L359.3,397.5 L360.3,395.3 L361.2,393.7 L362.2,392.6 L363.2,389.2 L364.2,386.7 L365.1,385.8 L365.9,385.2 L366.8,385.1 L368.0,387.9 L369.1,389.7 L370.1,390.4 L371.1,389.8 L372.1,390.6 L373.1,391.3 L374.1,391.7 L375.1,392.6 L376.2,389.9 L377.4,387.7 L378.3,388.5 L379.1,389.8 L380.0,390.6 L380.8,388.7 L381.7,386.5 L382.5,384.7 L383.5,386.9 L384.5,389.7 L385.7,385.6 L386.9,381.8 L388.0,380.4 L389.2,379.8 L390.4,378.8 L391.9,369.9 L392.7,369.7 L393.5,369.6 L394.3,369.0 L395.1,368.4 L395.9,368.6 L396.9,368.7 L397.9,369.4 L398.8,370.1 L399.8,370.5 L400.7,371.4 L401.6,371.6 L402.5,372.6 L403.4,372.9 L404.4,375.5 L405.3,377.8 L406.7,388.7 L408.1,392.6 L409.0,392.4 L409.9,392.3 L410.8,392.4 L411.7,392.5 L412.6,392.2 L413.6,389.4 L414.6,386.7 L416.0,380.8 L416.8,383.2 L417.6,385.1 L418.6,384.5 L419.6,383.7 L420.5,383.4 L421.5,382.8 L422.7,380.0 L423.9,376.8 L424.7,375.4 L425.6,374.8 L426.4,373.9 L427.4,376.1 L428.4,378.4 L429.4,377.7 L430.3,376.5 L431.3,374.9 L432.1,374.6 L432.9,374.9 L433.7,374.6 L434.5,373.8 L435.3,373.9 L436.3,371.9 L437.3,369.9 L438.3,367.7 L439.2,366.7 L440.2,364.6 L441.0,364.4 L441.8,364.3 L442.6,363.8 L443.4,363.3 L444.2,362.7 L445.1,361.2 L446.1,359.1 L447.7,366.0 L449.1,357.1 L450.1,355.5 L451.0,353.4 L452.0,352.2 L453.0,349.3 L454.0,346.3 L455.0,342.8 L456.0,340.4 L456.9,337.6 L457.9,335.5 L458.8,333.8 L459.6,331.1 L460.5,329.6 L461.4,327.3 L462.4,325.4 L463.3,324.0 L464.1,325.3 L465.0,325.4 L465.8,326.6 L467.0,325.5 L468.3,329.4 L469.9,335.7 L470.9,333.0 L471.9,331.4 L473.0,329.8 L474.2,327.4 L475.0,323.1 L475.8,319.6 L477.0,315.5 L478.2,310.7 L479.2,312.8 L480.2,314.6 L481.7,321.5 L482.7,314.2 L483.7,306.2 L484.7,306.7 L485.7,306.2 L486.6,312.0 L487.6,317.6 L489.2,322.5 L490.6,320.5 L491.6,323.1 L492.6,324.6 L493.6,327.4 L494.6,332.1 L495.5,336.3 L496.3,339.0 L497.1,341.6 L498.1,338.2 L499.1,334.3 L500.1,332.6 L501.0,331.8 L502.2,334.8 L503.4,337.3 L504.4,336.3 L505.4,334.3 L506.4,334.8 L507.3,336.1 L508.3,337.3 L509.9,349.1 L511.3,336.3 L512.3,338.3 L513.3,340.2 L514.2,338.9 L515.2,336.9 L516.4,340.8 L517.6,345.2 L518.5,347.5 L519.3,350.2 L520.2,353.1 L520.7,360.0 L521.7,356.5 L522.7,352.7 L523.9,352.7 L525.1,352.1 L526.2,355.4 L527.4,359.0 L528.4,363.9 L529.2,359.3 L530.0,355.0 L531.0,353.2 L532.4,365.0 L533.9,363.1 L534.7,365.4 L535.5,368.0 L536.9,358.1 L538.3,374.9 L539.1,375.0 L539.9,375.5 L541.0,361.1 L542.2,358.1 L543.4,345.7 L544.8,357.1 L546.2,351.2 L547.3,362.1 L548.7,352.2 L549.6,350.5 L550.4,348.5 L551.3,347.3 L552.3,348.8 L553.3,350.2 L554.2,356.2 L555.2,361.1 L556.6,362.1 L557.6,373.9 L559.0,370.9 L559.8,379.8 L561.1,369.0 L562.5,370.9 L563.9,363.1 L564.7,362.5 L565.5,362.1 L566.1,343.0 L567.4,357.1 L568.2,358.4 L569.0,359.1 L570.0,359.2 L571.0,360.1 L572.1,356.9 L573.3,353.2 L574.1,355.9 L574.9,358.1 L575.9,355.3 L576.9,352.2 L577.9,354.7 L578.9,357.1 L579.8,357.6 L580.8,358.1 L582.2,352.2 L583.2,363.1 L584.6,351.6 L585.4,351.6 L586.2,351.2 L587.1,365.0 L588.1,373.9 L588.9,377.8 L589.7,380.8 L591.1,387.7 L591.9,390.3 L592.7,393.6" fill="none" stroke="#0000ff" stroke-width="1.25" stroke-linejoin="round"/>
<path clip-path="url(#p5)" d="M12.6,524.0 L13.3,522.7 L13.9,526.4 L14.9,525.8 L16.0,525.4 L17.0,525.8 L17.9,525.3 L18.8,524.5 L19.6,524.0 L20.5,524.1 L21.4,523.9 L22.4,525.0 L23.5,525.2 L24.5,525.2 L25.4,522.5 L26.4,518.9 L27.4,516.9 L28.3,515.8 L29.1,515.6 L30.0,514.8 L30.8,514.9 L31.8,516.1 L32.7,518.3 L33.7,519.5 L34.6,522.0 L35.4,521.5 L36.3,522.7 L37.1,522.0 L37.9,521.3 L38.8,520.0 L39.6,518.3 L41.1,513.3 L42.1,504.5 L43.1,512.6 L44.0,518.9 L44.8,518.4 L45.6,517.0 L46.7,517.8 L47.7,519.5 L48.5,519.8 L49.4,521.0 L50.2,521.4 L51.1,521.6 L51.9,521.6 L52.8,520.8 L53.8,519.5 L54.9,517.0 L55.7,519.5 L56.5,523.3 L57.3,523.7 L58.2,524.0 L59.0,523.9 L59.8,524.3 L60.6,524.1 L61.4,525.0 L62.2,525.4 L63.1,524.7 L64.1,526.0 L65.0,525.8 L65.9,525.2 L67.0,524.4 L68.0,523.2 L69.1,522.7 L70.1,521.6 L71.2,519.3 L72.2,517.4 L73.1,517.9 L74.1,517.8 L75.0,517.1 L75.9,517.0 L76.8,516.5 L77.6,516.4 L78.5,515.8 L79.4,516.6 L80.3,517.6 L81.2,516.7 L82.1,516.6 L82.9,517.0 L83.8,515.4 L84.7,515.8 L85.9,515.1 L87.1,509.5 L87.9,511.9 L88.8,515.8 L89.8,518.2 L90.9,520.2 L91.7,520.7 L92.6,521.9 L93.4,522.7 L94.4,521.8 L95.5,520.8 L96.5,520.2 L97.3,520.3 L98.1,518.4 L98.9,518.1 L99.7,517.6 L100.5,517.8 L101.4,519.1 L102.2,519.5 L103.0,519.6 L103.9,520.1 L104.7,520.8 L105.7,520.6 L106.8,519.2 L107.8,518.9 L108.8,518.3 L109.7,518.1 L110.6,516.2 L111.6,516.1 L112.5,515.1 L113.4,515.1 L114.4,515.6 L115.3,514.9 L116.2,515.5 L117.2,515.3 L118.1,515.9 L119.1,516.6 L119.9,516.2 L120.8,516.8 L121.6,516.3 L122.4,517.4 L123.3,517.9 L124.1,517.4 L124.9,518.3 L125.8,518.1 L126.6,518.6 L127.4,517.2 L128.3,517.8 L129.1,518.3 L129.9,519.1 L130.7,518.9 L131.5,518.5 L132.3,518.7 L133.2,520.2 L134.2,520.4 L135.1,521.5 L136.0,521.7 L136.9,521.3 L137.8,521.1 L138.6,521.4 L139.5,520.9 L140.4,521.4 L141.2,520.9 L142.1,521.5 L142.9,520.2 L143.7,519.3 L144.6,519.1 L145.4,519.5 L146.2,518.9 L147.1,519.9 L147.9,519.1 L148.8,519.0 L149.7,518.6 L150.5,519.2 L151.3,519.9 L152.2,518.9 L153.0,518.5 L153.8,518.2 L154.7,518.1 L155.5,518.7 L156.4,517.8 L157.3,518.3 L158.3,517.2 L159.2,517.4 L160.0,516.3 L160.8,516.7 L161.7,516.0 L162.5,516.1 L163.5,517.6 L164.6,517.0 L165.6,518.3 L166.4,518.2 L167.2,518.5 L168.0,517.9 L168.9,518.7 L169.7,517.8 L170.5,517.3 L171.3,517.6 L172.1,517.5 L173.0,516.9 L173.8,517.5 L174.6,517.2 L175.5,518.2 L176.3,517.6 L177.4,517.2 L178.6,515.8 L180.1,518.3 L181.1,518.6 L182.2,518.2 L183.2,519.2 L184.0,517.4 L184.9,516.1 L185.7,515.1 L186.5,513.9 L187.4,513.2 L188.2,512.9 L189.0,514.0 L189.9,513.4 L190.7,514.5 L192.0,519.5 L192.8,519.2 L193.7,521.1 L194.5,520.8 L195.3,519.6 L196.2,519.1 L197.0,517.0 L198.0,517.4 L199.1,518.8 L200.1,518.7 L200.9,519.0 L201.8,519.3 L202.6,519.3 L203.4,519.0 L204.3,518.5 L205.1,519.2 L206.1,518.5 L207.0,519.3 L207.9,519.2 L208.9,518.3 L210.1,516.1 L211.2,512.6 L212.4,514.5 L213.7,507.0 L214.9,514.5 L216.0,515.5 L217.1,517.0 L217.9,515.6 L218.8,514.1 L219.6,512.0 L220.4,511.0 L221.3,510.0 L222.1,508.2 L222.9,508.0 L223.8,508.0 L224.6,507.6 L225.5,508.5 L226.4,508.4 L227.4,510.0 L228.3,509.9 L229.1,511.1 L230.0,510.2 L230.8,511.4 L231.7,511.7 L232.5,511.3 L233.4,510.1 L234.2,511.8 L235.1,512.3 L235.9,514.5 L236.8,516.2 L237.6,516.0 L238.5,517.6 L239.5,519.0 L240.6,519.1 L241.6,519.5 L242.4,518.0 L243.2,517.4 L244.0,517.4 L244.8,516.4 L245.8,515.7 L246.9,515.3 L247.9,514.1 L248.8,515.1 L249.8,514.3 L250.8,514.3 L251.7,515.4 L252.7,517.0 L253.8,516.6 L254.8,518.3 L255.6,518.3 L256.5,516.4 L257.3,516.4 L258.4,518.2 L259.4,519.5 L260.5,520.4 L261.3,519.2 L262.2,516.9 L263.0,515.1 L264.0,516.3 L265.1,515.9 L266.1,517.0 L267.1,516.3 L268.0,515.1 L269.0,514.5 L270.1,515.1 L271.1,514.1 L271.9,515.5 L272.8,516.0 L273.6,517.0 L274.4,517.2 L275.3,516.5 L276.1,517.4 L277.2,517.4 L278.2,519.0 L279.3,519.5 L280.3,518.4 L281.4,518.0 L282.4,516.4 L283.4,515.6 L284.5,514.0 L285.5,513.6 L286.4,511.6 L287.4,510.1 L288.4,507.4 L289.7,513.3 L290.6,514.3 L291.5,514.5 L292.4,515.1 L293.2,514.9 L294.0,516.8 L294.8,517.3 L295.6,517.4 L296.5,517.4 L297.5,518.9 L298.4,519.3 L299.3,520.2 L300.2,520.4 L301.2,519.4 L302.2,519.0 L303.1,519.2 L304.1,518.9 L305.2,519.3 L306.2,518.3 L307.0,515.8 L307.9,513.9 L308.7,512.6 L309.5,512.4 L310.4,512.4 L311.2,511.4 L312.1,509.5 L313.1,507.6 L314.4,506.9 L315.2,506.2 L316.1,506.2 L316.9,505.0 L317.9,506.7 L318.9,506.9 L319.9,508.9 L320.9,509.3 L321.9,507.9 L322.8,507.8 L323.8,507.9 L324.8,509.4 L325.8,509.8 L326.8,510.9 L327.8,506.9 L328.8,502.0 L330.0,500.5 L331.1,500.0 L332.7,505.0 L333.5,507.5 L334.3,508.9 L335.7,500.0 L337.2,508.9 L338.2,503.9 L339.2,500.0 L340.2,498.4 L341.2,498.0 L342.6,482.3 L344.1,472.4 L345.5,481.3 L346.3,491.6 L347.1,502.0 L348.1,497.3 L349.1,493.1 L350.5,483.3 L352.0,491.1 L352.9,484.3 L353.8,477.3 L355.0,481.3 L356.2,451.7 L357.0,456.3 L357.8,459.6 L359.3,453.7 L360.5,464.5 L361.3,487.2 L362.9,477.3 L364.3,501.0 L365.2,499.8 L366.2,498.0 L367.2,491.8 L368.2,487.2 L369.0,485.9 L369.8,485.2 L371.2,495.1 L372.7,487.2 L374.1,489.2 L375.3,477.3 L376.7,493.1 L377.6,489.7 L378.5,486.2 L380.0,481.3 L381.4,488.2 L382.6,497.1 L384.0,485.2 L385.4,484.2 L386.6,495.1 L387.9,505.9 L388.9,507.4 L389.9,508.9 L390.9,511.2 L391.9,512.8 L392.9,513.8 L393.8,514.1 L394.8,515.8 L395.8,515.7 L396.8,517.0 L397.8,516.8 L398.8,516.6 L399.8,517.2 L400.7,517.6 L401.7,516.8 L402.6,516.0 L403.5,515.1 L404.4,513.9 L405.4,513.8 L406.3,513.3 L407.3,501.3 L408.5,494.5 L409.8,502.6 L411.0,505.7 L412.2,496.3 L413.5,497.0 L414.8,506.4 L416.1,513.3 L417.6,508.2 L418.5,506.7 L419.4,505.7 L420.7,507.0 L421.6,505.8 L422.6,503.2 L423.6,506.0 L424.5,508.9 L425.6,511.4 L426.6,512.6 L427.6,510.1 L428.6,508.2 L430.1,512.0 L431.1,510.1 L432.0,507.0 L433.5,504.5 L434.3,507.2 L435.1,508.9 L436.1,510.6 L437.0,512.0 L437.9,511.3 L438.9,510.8 L439.9,510.8 L440.8,512.0 L441.7,509.9 L442.6,507.0 L443.8,507.1 L444.9,507.6 L445.7,506.6 L446.6,504.5 L447.4,503.9 L448.4,506.3 L449.5,510.1 L450.4,509.2 L451.4,509.5 L452.4,512.5 L453.3,514.5 L454.1,514.7 L455.0,516.5 L455.8,516.6 L456.6,515.9 L457.5,515.7 L458.3,515.1 L459.1,514.3 L460.0,514.1 L460.8,513.3 L461.6,513.9 L462.5,515.6 L463.3,517.0 L464.1,517.3 L465.0,515.7 L465.8,515.8 L466.6,516.6 L467.5,516.6 L468.3,517.4 L469.1,516.4 L470.0,515.3 L470.8,515.4 L471.9,513.6 L472.9,513.3 L473.7,515.0 L474.6,515.8 L475.4,516.2 L476.2,516.9 L477.0,517.2 L477.8,517.6 L478.6,516.6 L479.4,517.4 L480.2,517.0 L481.1,516.3 L481.9,515.8 L482.7,517.0 L483.6,518.6 L484.4,518.9 L485.2,518.8 L486.0,518.7 L486.8,516.9 L487.6,517.0 L488.6,516.6 L489.7,516.0 L490.7,515.1 L491.5,515.1 L492.4,514.5 L493.2,513.9 L494.1,512.5 L495.1,510.1 L496.7,507.4 L497.6,508.8 L498.6,510.8 L499.5,512.1 L500.4,511.8 L501.3,512.6 L502.9,508.9 L503.7,505.6 L504.5,502.0 L505.4,503.9 L506.4,504.5 L507.9,500.7 L508.9,500.4 L509.9,499.5 L511.1,508.2 L512.2,507.0 L513.3,506.4 L514.1,504.6 L514.9,503.6 L515.8,506.0 L516.6,508.9 L517.8,508.5 L518.9,507.6 L520.0,510.6 L521.2,512.0 L522.2,509.8 L523.3,506.4 L524.1,506.2 L525.0,506.2 L525.8,506.4 L526.8,502.5 L527.7,497.6 L529.2,502.6 L530.8,503.9 L532.1,490.7 L533.0,491.0 L534.0,491.9 L535.5,482.5 L536.3,487.4 L537.1,492.6 L538.3,476.3 L539.1,474.6 L540.0,474.4 L541.2,486.3 L542.1,490.7 L543.4,486.3 L544.2,497.0 L545.6,488.2 L546.7,483.2 L547.5,485.5 L548.4,488.8 L549.5,487.0 L550.6,485.1 L551.5,489.9 L552.4,494.0 L553.8,498.5 L555.3,489.6 L556.1,489.2 L556.9,488.4 L558.0,472.7 L559.4,462.7 L560.7,475.0 L561.6,477.0 L562.5,479.5 L563.3,486.4 L564.1,491.8 L565.4,494.0 L566.5,505.2 L567.3,500.9 L568.1,496.3 L569.0,497.4 L569.9,499.6 L570.8,497.3 L571.7,496.3 L572.7,499.3 L573.7,500.8 L574.8,502.7 L575.9,503.0 L576.8,500.3 L577.7,496.3 L578.7,495.3 L579.7,494.0 L580.6,495.9 L581.5,498.5 L582.4,495.6 L583.3,494.0 L584.1,496.4 L584.9,499.6 L586.0,503.0 L587.1,490.7 L588.3,481.7 L589.4,468.3 L590.1,450.3 L591.2,439.1 L592.3,430.2 L593.2,423.4" fill="none" stroke="#000000" stroke-width="2.4" stroke-linejoin="round" stroke-linecap="round"/>
<path d="M12.5,37.5 H595.5 V530 M12.5,37.5 V530.5 M12.5,131.5 H595.5 M12.5,160.5 H595.5 M12.5,283.5 H599.5 M12.5,406.5 H599.5" fill="none" stroke="#2c2c2c" stroke-width="1"/>
<path d="M12.5,530 H599.5" fill="none" stroke="#555" stroke-width="1.1"/>
<path d="M595.5,125.1 h4 M595.5,105.6 h4 M595.5,86.2 h4 M595.5,66.8 h4 M595.5,47.3 h4 M595.5,283.3 h4 M595.5,255.1 h4 M595.5,226.8 h4 M595.5,198.6 h4 M595.5,170.3 h4 M595.5,406.3 h4 M595.5,387.5 h4 M595.5,368.7 h4 M595.5,349.9 h4 M595.5,331.1 h4 M595.5,312.3 h4 M595.5,293.5 h4 M595.5,530.0 h4 M595.5,511.6 h4 M595.5,493.1 h4 M595.5,474.6 h4 M595.5,456.2 h4 M595.5,437.8 h4 M595.5,419.3 h4 M12.5,530 v3 M27.5,530 v4 M42.5,530 v3 M57.5,530 v3 M72.5,530 v4 M87.5,530 v3 M102.5,530 v3 M117.5,530 v4 M132.5,530 v3 M147.5,530 v3 M162.5,530 v4 M177.5,530 v3 M192.5,530 v3 M207.5,530 v4 M222.5,530 v3 M237.5,530 v3 M252.5,530 v4 M267.5,530 v3 M282.5,530 v3 M297.5,530 v4 M312.5,530 v3 M327.5,530 v3 M342.5,530 v4 M357.5,530 v3 M372.5,530 v3 M387.5,530 v4 M402.5,530 v3 M417.5,530 v3 M432.5,530 v4 M447.5,530 v3 M462.5,530 v3 M477.5,530 v4 M492.5,530 v3 M507.5,530 v3 M522.5,530 v4 M537.5,530 v3 M552.5,530 v3 M567.5,530 v4 M582.5,530 v3" stroke="#222" stroke-width="1.1" fill="none"/>
<text x="600.8" y="128" font-size="8.9" fill="#2a2a2a">0</text>
<text x="600.8" y="109" font-size="8.9" fill="#2a2a2a">500</text>
<text x="600.8" y="89" font-size="8.9" fill="#2a2a2a">1000</text>
<text x="600.8" y="70" font-size="8.9" fill="#2a2a2a">1500</text>
<text x="600.8" y="51" font-size="8.9" fill="#2a2a2a">2000</text>
<text x="600.8" y="287" font-size="8.9" fill="#2a2a2a">0</text>
<text x="600.8" y="258" font-size="8.9" fill="#2a2a2a">20</text>
<text x="600.8" y="230" font-size="8.9" fill="#2a2a2a">40</text>
<text x="600.8" y="202" font-size="8.9" fill="#2a2a2a">60</text>
<text x="600.8" y="174" font-size="8.9" fill="#2a2a2a">80</text>
<text x="600.8" y="410" font-size="8.9" fill="#2a2a2a">0</text>
<text x="600.8" y="391" font-size="8.9" fill="#2a2a2a">1</text>
<text x="600.8" y="372" font-size="8.9" fill="#2a2a2a">2</text>
<text x="600.8" y="353" font-size="8.9" fill="#2a2a2a">3</text>
<text x="600.8" y="334" font-size="8.9" fill="#2a2a2a">4</text>
<text x="600.8" y="316" font-size="8.9" fill="#2a2a2a">5</text>
<text x="600.8" y="297" font-size="8.9" fill="#2a2a2a">6</text>
<text x="600.8" y="533" font-size="8.9" fill="#2a2a2a">0</text>
<text x="600.8" y="515" font-size="8.9" fill="#2a2a2a">10</text>
<text x="600.8" y="496" font-size="8.9" fill="#2a2a2a">20</text>
<text x="600.8" y="478" font-size="8.9" fill="#2a2a2a">30</text>
<text x="600.8" y="460" font-size="8.9" fill="#2a2a2a">40</text>
<text x="600.8" y="441" font-size="8.9" fill="#2a2a2a">50</text>
<text x="600.8" y="423" font-size="8.9" fill="#2a2a2a">60</text>
<text x="27.7" y="542.4" font-size="8.3" text-anchor="middle" fill="#2a2a2a">1976</text>
<text x="72.7" y="542.4" font-size="8.3" text-anchor="middle" fill="#2a2a2a">1979</text>
<text x="117.7" y="542.4" font-size="8.3" text-anchor="middle" fill="#2a2a2a">1982</text>
<text x="162.7" y="542.4" font-size="8.3" text-anchor="middle" fill="#2a2a2a">1985</text>
<text x="207.7" y="542.4" font-size="8.3" text-anchor="middle" fill="#2a2a2a">1988</text>
<text x="252.7" y="542.4" font-size="8.3" text-anchor="middle" fill="#2a2a2a">1991</text>
<text x="297.7" y="542.4" font-size="8.3" text-anchor="middle" fill="#2a2a2a">1994</text>
<text x="342.7" y="542.4" font-size="8.3" text-anchor="middle" fill="#2a2a2a">1997</text>
<text x="387.7" y="542.4" font-size="8.3" text-anchor="middle" fill="#2a2a2a">2000</text>
<text x="432.7" y="542.4" font-size="8.3" text-anchor="middle" fill="#2a2a2a">2003</text>
<text x="477.7" y="542.4" font-size="8.3" text-anchor="middle" fill="#2a2a2a">2006</text>
<text x="522.7" y="542.4" font-size="8.3" text-anchor="middle" fill="#2a2a2a">2009</text>
<text x="567.7" y="542.4" font-size="8.3" text-anchor="middle" fill="#2a2a2a">2012</text>
<text x="88.2" y="17.6" font-size="15" font-weight="bold" textLength="464.3" lengthAdjust="spacingAndGlyphs" style="fill:#000080">COMEX WAREHOUSE - REGISTERED GOLD STOCKS COVER</text>
<text x="152" y="33.7" font-size="10.2" textLength="337.2" lengthAdjust="spacingAndGlyphs" fill="#363636" xml:space="preserve" >Comparing open interest positions versus warehouse registered stockpiles</text>
<rect x="16.9" y="40" width="7.6" height="7.6" rx="0.8" fill="#ffa500" stroke="#8a6a30" stroke-width="0.9"/>
<text x="32.2" y="47.0" font-size="10.2" textLength="46.8" lengthAdjust="spacingAndGlyphs" fill="#363636" xml:space="preserve" >CME Gold</text>
<text x="282.9" y="47.0" font-size="10.2" textLength="65.2" lengthAdjust="spacingAndGlyphs" fill="#363636" xml:space="preserve" >Sep-12  2013</text>
<text x="513.8" y="47.0" font-size="10.2" textLength="69.5" lengthAdjust="spacingAndGlyphs" fill="#363636" xml:space="preserve" >Close = 1330.3</text>
<text x="15.6" y="141.2" font-size="10.2" textLength="153.5" lengthAdjust="spacingAndGlyphs" fill="#363636" xml:space="preserve" >Open Interest = 382364 Contracts</text>
<text x="15.6" y="170" font-size="10.2" textLength="262" lengthAdjust="spacingAndGlyphs" fill="#363636" xml:space="preserve" >Open Interest × 100oz Per Contract – Millions Of Ounces</text>
<text x="464.4" y="170" font-size="10.2" textLength="123.8" lengthAdjust="spacingAndGlyphs" fill="#363636" xml:space="preserve" >Total Ounces = 38.24 m/oz</text>
<text x="15.6" y="292.6" font-size="10.2" textLength="242" lengthAdjust="spacingAndGlyphs" fill="#363636" xml:space="preserve" >Comex Registered Gold Stocks – Millions Of Ounces</text>
<text x="448.5" y="292.6" font-size="10.2" textLength="138" lengthAdjust="spacingAndGlyphs" fill="#363636" xml:space="preserve" >Registered Stocks = 0.66 m/oz</text>
<text x="15.6" y="415.6" font-size="10.2" textLength="251" lengthAdjust="spacingAndGlyphs" fill="#363636" xml:space="preserve" >Open Interest Ounces / Comex Registered Gold Stocks</text>
<rect x="458.8" y="404" width="125" height="15.2" fill="#ffffff" stroke="#ff0000" stroke-width="1.5"/>
<text x="460.7" y="415.6" font-size="10.2" textLength="119.3" lengthAdjust="spacingAndGlyphs" fill="#363636" xml:space="preserve" >Owners Per Ounce = 57.8</text>
<rect x="17.5" y="453" width="8.5" height="8.5" fill="#000"/>
<text x="32.5" y="462" font-size="13" font-weight="bold" font-style="italic" textLength="186.5" lengthAdjust="spacingAndGlyphs" fill="#000">Number Of Owners Per Ounce</text>
<ellipse cx="365.6" cy="486.4" rx="41.1" ry="43.3" fill="none" stroke="#ff0000" stroke-width="1.5"/>
<ellipse cx="592.9" cy="467.5" rx="11.8" ry="48.8" fill="none" stroke="#ff0000" stroke-width="1.5"/>
<text x="248.5" y="552" font-size="8.6" textLength="154" lengthAdjust="spacingAndGlyphs" fill="#363636" xml:space="preserve" >world gold charts © www.sharelynx.com</text>
</svg></body></html>
